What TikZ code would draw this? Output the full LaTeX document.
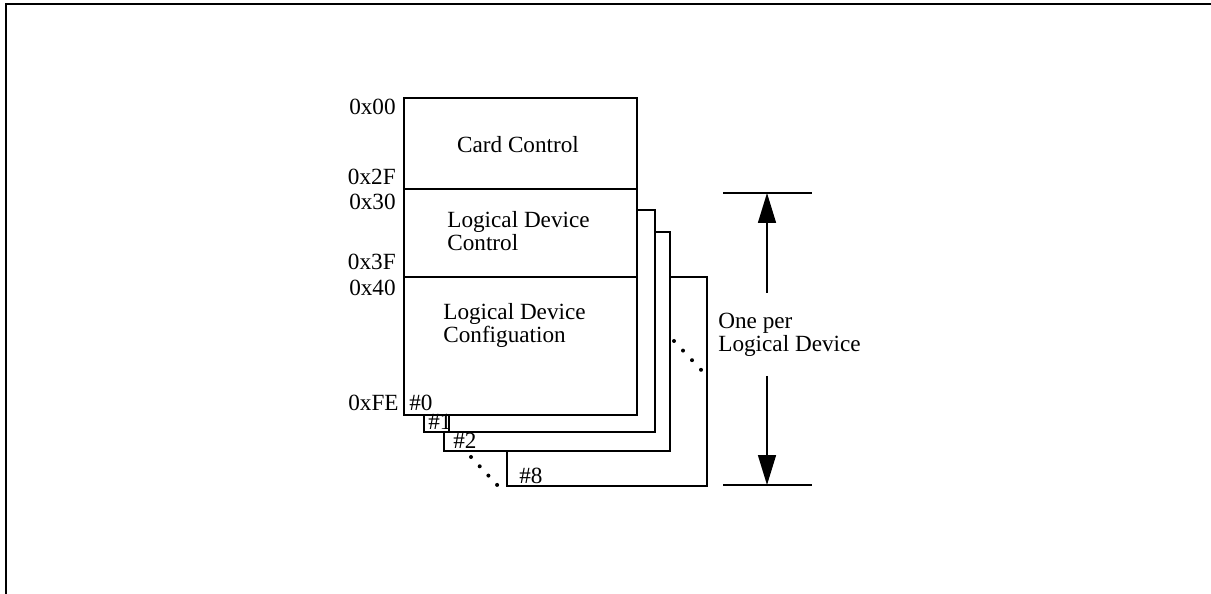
\documentclass[tikz,border=0pt]{standalone}
\usepackage{fontspec}
\setmainfont{Liberation Serif}
\usetikzlibrary{arrows.meta}

\tikzset{
  regbox/.style={draw, line width=0.9pt, fill=white},
  addr/.style={font=\fontsize{13.2}{13}\selectfont, inner sep=0pt, anchor=east},
  lbl/.style={font=\fontsize{13.2}{13}\selectfont, inner sep=0pt, align=left, anchor=north west},
  dimline/.style={line width=0.9pt},
  dimarrow/.style={line width=0.9pt, -{Triangle[length=0.6cm, width=0.36cm]}}
}

\begin{document}
\begin{tikzpicture}[x=0.02cm, y=-0.02cm]
			\useasboundingbox (0,0) rectangle (1211,594);
			\draw[line width=1.1pt] (6,620) |- (1230,4);
			% stacked register pages, back to front
			\draw[regbox] (507,277) rectangle (707,486);
			\draw[regbox] (444,232) rectangle (670,451);
			\draw[regbox] (424,210) rectangle (655,432);
			\draw[regbox] (404,98) rectangle (637,415);
			\draw[regbox] (424,415) rectangle (449,432);
			\draw[dimline] (404,189) -- (637,189);
			\draw[dimline] (404,277) -- (637,277);
			% dots for the skipped pages
			\foreach \i in {0,...,3} {
				\fill (674+9*\i,341+9.6*\i) circle (2);
				\fill (471+8.7*\i,457+9.3*\i) circle (2);
			}
			% contents
			\node[lbl, anchor=center] (cardctl) at (518,145) {Card Control};
			\node[lbl] (ldctl) at (447,211) {Logical Device\\Control};
			\node[lbl] (ldcfg) at (443,303) {Logical Device\\Configuation};
			\node[lbl, anchor=south west] (pg0) at (409,411) {\#0};
			\node[lbl, anchor=south west] (pg1) at (428,430) {\#1};
			\node[lbl, anchor=south west] (pg2) at (453,449) {\#2};
			\node[lbl, anchor=south west] (pg8) at (519,484) {\#8};
			% addresses
			\node[addr] (a00) at (396,107) {0x00};
			\node[addr] (a2f) at (396,177) {0x2F};
			\node[addr] (a30) at (396,202) {0x30};
			\node[addr] (a3f) at (396,262) {0x3F};
			\node[addr] (a40) at (396,288) {0x40};
			\node[addr] (afe) at (399,403) {0xFE};
			% dimension
			\coordinate (dimtl) at (723,193);
			\coordinate (dimtr) at (812,193);
			\coordinate (dimbl) at (723,485);
			\coordinate (dimbr) at (812,485);
			\coordinate (dimtop) at (767,193);
			\coordinate (dimbot) at (767,485);
			\coordinate (arrup) at (767,293);
			\coordinate (arrdown) at (767,376);
			\draw[dimline] (dimtl) -- (dimtr);
			\draw[dimline] (dimbl) -- (dimbr);
			\draw[dimarrow] (arrup) -- (dimtop);
			\draw[dimarrow] (arrdown) -- (dimbot);
			\node[lbl] (perdev) at (718,313) {One per\\Logical Device};
		\end{tikzpicture}
\end{document}
